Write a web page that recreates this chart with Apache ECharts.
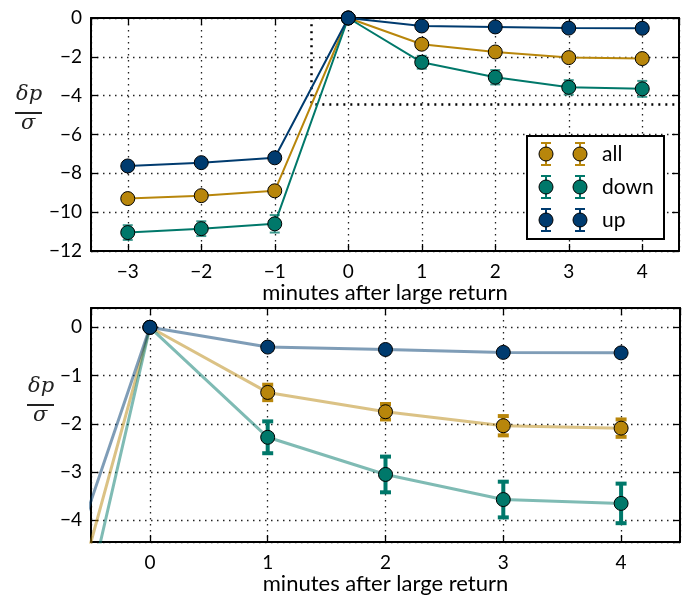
<!DOCTYPE html>
<html>
<head>
<meta charset="utf-8">
<script src="https://cdn.jsdelivr.net/npm/echarts@6/dist/echarts.min.js"></script>
<style>html,body{margin:0;padding:0;background:#fff}#c{width:684px;height:597px}</style>
</head>
<body>
<div id="c"></div>
<script>
// ---- data ----
const minutes = [-3, -2, -1, 0, 1, 2, 3, 4];
const allVals  = [-9.3, -9.15, -8.9, 0, -1.35, -1.75, -2.04, -2.09];
const downVals = [-11.05, -10.85, -10.6, 0, -2.28, -3.05, -3.57, -3.65];
const upVals   = [-7.62, -7.45, -7.2, 0, -0.41, -0.46, -0.52, -0.53];
const allErr  = [0.2, 0.2, 0.22, 0.05, 0.16, 0.16, 0.2, 0.18];
const downErr = [0.38, 0.38, 0.45, 0.05, 0.33, 0.37, 0.37, 0.41];
const upErr   = [0.1, 0.1, 0.1, 0.05, 0.06, 0.06, 0.06, 0.06];
const seriesNames = ['all', 'down', 'up'];
const zoomBox = [[-0.5, 0.4], [-0.5, -4.45], [4.5, -4.45]];

const colors = { all: '#B8860B', down: '#00786A', up: '#003B6F' };
const vals = { all: allVals, down: downVals, up: upVals };
const errs = { all: allErr, down: downErr, up: upErr };

const FONT = 'Lato';
const minusFmt = v => (v < 0 ? '\u2212' + Math.abs(v) : String(v));

const chart = echarts.init(document.getElementById('c'));

const grids = [
  { left: 91, top: 18, width: 588, height: 233 },
  { left: 91, top: 308, width: 589, height: 234 }
];

function splitStyle() {
  return { show: true, lineStyle: { color: '#222', type: [1.5, 4.5], width: 1.3 } };
}
function mainX(gi, min, max) {
  return {
    type: 'value', gridIndex: gi, min: min, max: max, minInterval: 1, maxInterval: 1,
    position: 'bottom',
    axisLine: { show: true, onZero: false, lineStyle: { color: '#000', width: 2 } },
    axisTick: { show: true, inside: true, length: 7, lineStyle: { color: '#000', width: 1.3 } },
    axisLabel: { show: true, color: '#000', fontFamily: FONT, fontSize: 19, margin: 11,
      showMinLabel: false, showMaxLabel: false, formatter: minusFmt },
    splitLine: splitStyle(),
    name: 'minutes after large return', nameLocation: 'middle', nameGap: 29,
    nameTextStyle: { color: '#000', fontFamily: FONT, fontSize: 22 }
  };
}
function mirrorX(gi, min, max) {
  return {
    type: 'value', gridIndex: gi, min: min, max: max, minInterval: 1, maxInterval: 1,
    position: 'top',
    axisLine: { show: true, onZero: false, lineStyle: { color: '#000', width: 2 } },
    axisTick: { show: true, inside: true, length: 7, lineStyle: { color: '#000', width: 1.3 } },
    axisLabel: { show: false }, splitLine: { show: false }
  };
}
function mainY(gi, min, max, opts) {
  return Object.assign({
    type: 'value', gridIndex: gi, min: min, max: max, position: 'left',
    axisLine: { show: true, onZero: false, lineStyle: { color: '#000', width: 2 } },
    axisTick: { show: true, inside: true, length: 7, lineStyle: { color: '#000', width: 1.3 } },
    axisLabel: { show: true, color: '#000', fontFamily: FONT, fontSize: 19, margin: 9,
      formatter: minusFmt },
    splitLine: splitStyle()
  }, opts || {});
}
function mirrorY(gi, min, max, opts) {
  return Object.assign({
    type: 'value', gridIndex: gi, min: min, max: max, position: 'right',
    axisLine: { show: true, onZero: false, lineStyle: { color: '#000', width: 2 } },
    axisTick: { show: true, inside: true, length: 7, lineStyle: { color: '#000', width: 1.3 } },
    axisLabel: { show: false }, splitLine: { show: false }
  }, opts || {});
}

function errRender(capW, lw, opacity) {
  return function (params, api) {
    const x = api.value(0), lo = api.value(1), hi = api.value(2);
    const a = api.coord([x, lo]), b = api.coord([x, hi]);
    const st = { stroke: api.visual('color'), lineWidth: lw, opacity: opacity };
    return {
      type: 'group',
      children: [
        { type: 'line', shape: { x1: a[0], y1: a[1], x2: b[0], y2: b[1] }, style: st },
        { type: 'line', shape: { x1: a[0] - capW, y1: a[1], x2: a[0] + capW, y2: a[1] }, style: st },
        { type: 'line', shape: { x1: b[0] - capW, y1: b[1], x2: b[0] + capW, y2: b[1] }, style: st }
      ]
    };
  };
}

const series = [];
[0, 1].forEach(gi => {
  seriesNames.forEach(name => {
    const v = vals[name], e = errs[name];
    series.push({
      type: 'custom', name: name + '_err' + gi, xAxisIndex: gi * 2, yAxisIndex: gi * 2,
      clip: true, z: 2,
      itemStyle: { color: colors[name] },
      renderItem: gi === 0 ? errRender(5, 2, 0.75) : errRender(5.5, 4, 1),
      data: minutes.map((m, i) => [m, v[i] - e[i], v[i] + e[i]])
    });
    series.push({
      type: 'line', name: name, xAxisIndex: gi * 2, yAxisIndex: gi * 2,
      clip: true, z: 3,
      symbol: 'circle', symbolSize: 14,
      itemStyle: { color: colors[name], borderColor: '#000', borderWidth: 1 },
      lineStyle: { color: colors[name], width: gi === 0 ? 2 : 3, opacity: gi === 0 ? 1 : 0.5 },
      emphasis: { disabled: true },
      data: minutes.map((m, i) => [m, v[i]])
    });
  });
});
// dotted indicator of the zoomed region (drawn in the top panel)
series.push({
  type: 'line', name: 'zoom', xAxisIndex: 0, yAxisIndex: 0, clip: true, z: 1,
  symbol: 'none', silent: true,
  lineStyle: { color: '#000', width: 2.5, type: [2, 5] },
  data: zoomBox
});

function fracLabel(cx, yTop) {
  return [
    { type: 'text', left: cx - 12, top: yTop,
      style: { text: 'δp', font: 'italic 21px "DejaVu Serif"', fill: '#222' } },
    { type: 'rect', left: cx - 13, top: yTop + 28, shape: { width: 27, height: 2 }, style: { fill: '#222' } },
    { type: 'text', left: cx - 7, top: yTop + 29,
      style: { text: 'σ', font: 'italic 21px "DejaVu Serif"', fill: '#222' } }
  ];
}

const legendRows = seriesNames.map((n, i) => {
  const y = 154 + i * 33;
  const mk = x => [
    { type: 'line', shape: { x1: x, y1: y - 11, x2: x, y2: y + 11 }, style: { stroke: colors[n], lineWidth: 2 } },
    { type: 'line', shape: { x1: x - 5, y1: y - 11, x2: x + 5, y2: y - 11 }, style: { stroke: colors[n], lineWidth: 2 } },
    { type: 'line', shape: { x1: x - 5, y1: y + 11, x2: x + 5, y2: y + 11 }, style: { stroke: colors[n], lineWidth: 2 } },
    { type: 'circle', shape: { cx: x, cy: y, r: 7 }, style: { fill: colors[n], stroke: '#000', lineWidth: 1 } }
  ];
  return [].concat(mk(546), mk(580), [
    { type: 'text', x: 602, y: y, style: { text: n, font: '21px ' + FONT, fill: '#000', verticalAlign: 'middle' } }
  ]);
});

chart.setOption({
  animation: false,
  grid: grids.map(g => Object.assign({ show: false }, g)),
  xAxis: [mainX(0, -3.5, 4.5), mirrorX(0, -3.5, 4.5), mainX(1, -0.5, 4.5), mirrorX(1, -0.5, 4.5)],
  yAxis: [
    mainY(0, -12, 0, { interval: 2 }), mirrorY(0, -12, 0, { interval: 2 }),
    mainY(1, -4.45, 0.4, { minInterval: 1, maxInterval: 1,
      axisLabel: { show: true, color: '#000', fontFamily: FONT, fontSize: 19, margin: 9,
        showMinLabel: false, showMaxLabel: false, formatter: minusFmt } }),
    mirrorY(1, -4.45, 0.4, { minInterval: 1, maxInterval: 1 })
  ],
  series: series,
  graphic: [].concat(
    fracLabel(28, 84),
    fracLabel(40, 376),
    [{ type: 'rect', shape: { x: 527, y: 136, width: 137, height: 103 },
       style: { fill: '#fff', stroke: '#000', lineWidth: 2 }, z: 100 }],
    ...legendRows.map(r => r.map(el => Object.assign({ z: 101 }, el)))
  )
});
</script>
</body>
</html>
